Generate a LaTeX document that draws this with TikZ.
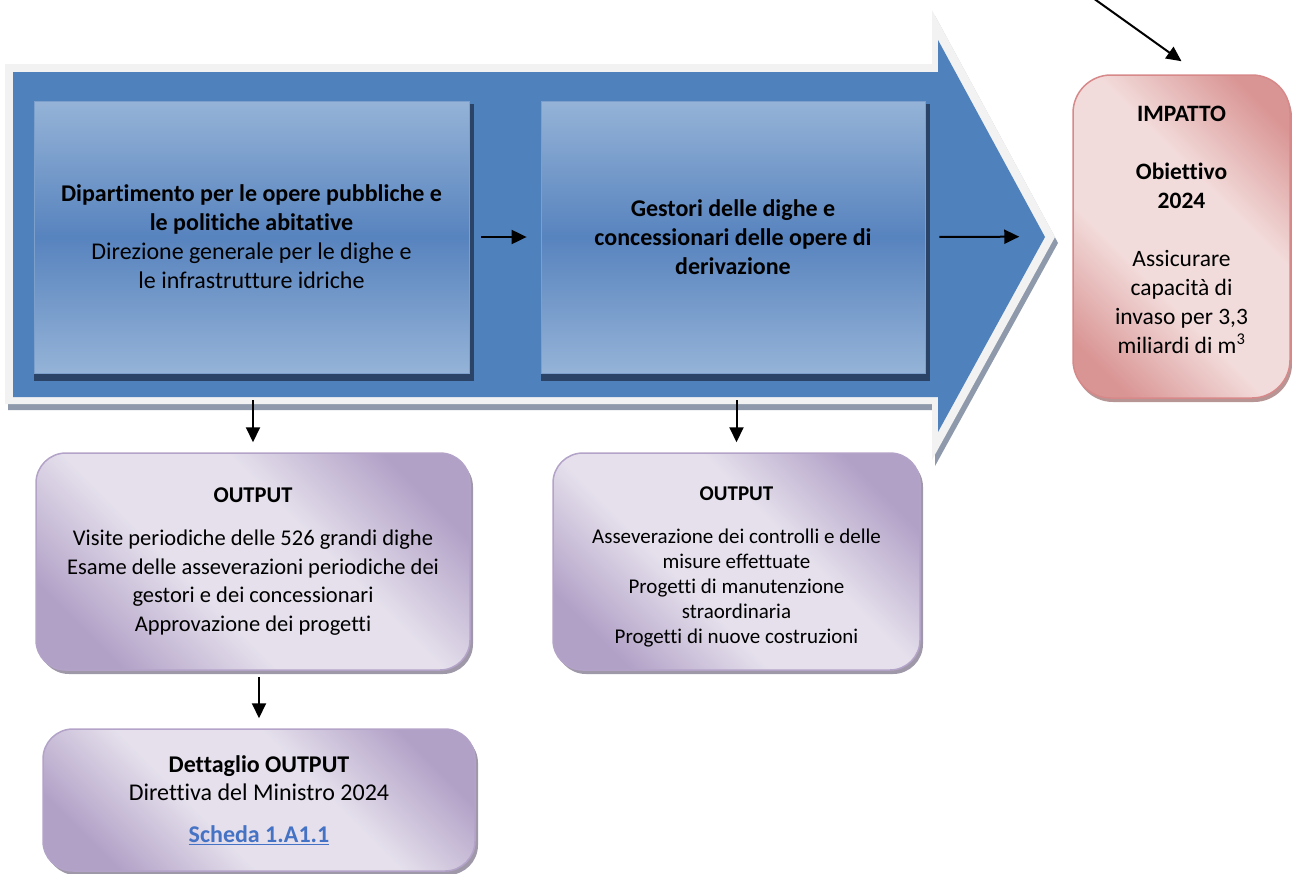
\documentclass[tikz,border=0pt]{standalone}
\usepackage{fontspec}
\setmainfont{Carlito}[Ligatures={NoCommon,NoRare}, RawFeature={-liga;-dlig;-clig}]
\usetikzlibrary{arrows.meta,shadows}
\definecolor{bluebody}{HTML}{4F81BD}
\definecolor{borderg}{HTML}{F2F2F2}
\definecolor{shadowg}{HTML}{8E9AAB}
\definecolor{boxlight}{HTML}{95B3D7}
\definecolor{boxmid}{HTML}{5783BE}
\definecolor{boxsh}{HTML}{2A4366}
\definecolor{boxedge}{HTML}{7D9FCC}
\definecolor{pinkl}{HTML}{F2DCDB}
\definecolor{pinkd}{HTML}{D99594}
\definecolor{pinkedge}{HTML}{D7898A}
\definecolor{pinksh}{HTML}{B89595}
\definecolor{purl}{HTML}{E5E0EC}
\definecolor{purd}{HTML}{B2A1C7}
\definecolor{puredge}{HTML}{B3A3C8}
\definecolor{pursh}{HTML}{9F98A8}
\definecolor{linkblue}{HTML}{4472C4}
\pgfdeclareverticalshading{boxshade}{100bp}{color(0bp)=(boxlight); color(25bp)=(boxlight); color(50bp)=(boxmid); color(75bp)=(boxlight); color(100bp)=(boxlight)}
\pgfdeclareverticalshading{pinkshade}{100bp}{color(0bp)=(pinkd); color(22bp)=(pinkd); color(40bp)=(pinkl); color(60bp)=(pinkl); color(78bp)=(pinkd); color(100bp)=(pinkd)}
\pgfdeclareverticalshading{purshade}{100bp}{color(0bp)=(purd); color(24bp)=(purd); color(41bp)=(purl); color(59bp)=(purl); color(76bp)=(purd); color(100bp)=(purd)}
\pgfdeclarelayer{bg}
\pgfsetlayers{bg,main}
\tikzset{
  bluebox/.style={rectangle, shading=boxshade, draw=boxedge, line width=0.8pt, inner sep=0pt, align=center, font=\fontsize{24pt}{29pt}\selectfont},
  impbox/.style={rectangle, rounded corners=38pt, shading=pinkshade, shading angle=-45, draw=pinkedge, line width=1.5pt, inner sep=0pt, align=center, font=\fontsize{23.5pt}{29pt}\selectfont, drop shadow={shadow xshift=2pt, shadow yshift=-4pt, fill=pinksh, opacity=1}},
  outbox/.style={rectangle, rounded corners=30pt, shading=purshade, shading angle=-45, draw=puredge, line width=1.5pt, inner sep=0pt, align=center, drop shadow={shadow xshift=3pt, shadow yshift=-4pt, fill=pursh, opacity=1}},
  arr/.style={line width=2pt, -{Triangle[length=15pt,width=14pt]}}
}
\begin{document}
\begin{tikzpicture}[x=1pt,y=-1pt]
\useasboundingbox (0,0) rectangle (1292,873);
% big process arrow
\begin{pgfonlayer}{bg}
\fill[shadowg] (8,70) -- (935,70) -- (935,16) -- (1058,243) -- (935,466) -- (935,410) -- (8,410) -- cycle;
\fill[borderg] (5,64) -- (932,64) -- (932,10) -- (1055,237) -- (932,460) -- (932,404) -- (5,404) -- cycle;
\fill[bluebody] (13,72) -- (938,72) -- (938,40) -- (1045,237) -- (938,432) -- (938,397) -- (13,397) -- cycle;
\end{pgfonlayer}

\node[bluebox, minimum width=435pt, minimum height=272pt] (b1) at (251.5,237)
  {\textbf{Dipartimento per le opere pubbliche e}\\\textbf{le politiche abitative}\\Direzione generale per le dighe e\\le infrastrutture idriche};
\node[bluebox, minimum width=384pt, minimum height=272pt] (b2) at (733,237)
  {\textbf{Gestori delle dighe e}\\\textbf{concessionari delle opere di}\\\textbf{derivazione}};
\node[impbox, minimum width=217pt, minimum height=323pt, text depth=14pt] (imp) at (1181.5,236.5)
  {\textbf{IMPATTO}\\[29pt]\textbf{Obiettivo}\\\textbf{2024}\\[29pt]Assicurare\\capacità di\\invaso per 3,3\\miliardi di m\textsuperscript{3}};
\node[outbox, minimum width=434pt, minimum height=217pt, font=\fontsize{22.5pt}{28.5pt}\selectfont] (o1) at (253,561.5)
  {\textbf{OUTPUT}\\[15pt]Visite periodiche delle 526 grandi dighe\\Esame delle asseverazioni periodiche dei\\gestori e dei concessionari\\Approvazione dei progetti};
\node[outbox, minimum width=367pt, minimum height=217pt, font=\fontsize{21pt}{25pt}\selectfont] (o2) at (736.5,561.5)
  {\textbf{OUTPUT}\rule{0pt}{24pt}\\[18pt]Asseverazione dei controlli e delle\\misure effettuate\\Progetti di manutenzione\\straordinaria\\Progetti di nuove costruzioni};
\node[outbox, minimum width=432pt, minimum height=142pt, font=\fontsize{24pt}{28pt}\selectfont] (det) at (259,800)
  {\textbf{Dettaglio OUTPUT}\\Direttiva del Ministro 2024\\[14pt]{\color{linkblue}\textbf{\underline{Scheda 1.A1.1}}}};

% shadows of the blue inner boxes
\begin{pgfonlayer}{bg}
\fill[boxsh] ([yshift=-3pt]b1.north west) rectangle ([xshift=5pt,yshift=-8pt]b1.south east);
\fill[boxsh] ([yshift=-3pt]b2.north west) rectangle ([xshift=5pt,yshift=-8pt]b2.south east);
\end{pgfonlayer}

% connectors
\coordinate (topstart) at (1093,-2);
\draw[arr] (topstart) -- ([yshift=13pt]imp.north);
\draw[arr, shorten <=12pt, shorten >=14pt] (b1.east) -- (b2.west);
\draw[arr, shorten <=14pt, shorten >=53pt] (b2.east) -- (imp.west);
\draw[arr, shorten <=27pt, shorten >=10pt] (b1.south -| o1.north) -- (o1.north);
\draw[arr, shorten <=27pt, shorten >=10pt] (b2.south -| o2.north) -- (o2.north);
\draw[arr, shorten <=6pt, shorten >=10pt] (o1.south -| det.north) -- (det.north);
\end{tikzpicture}
\end{document}
